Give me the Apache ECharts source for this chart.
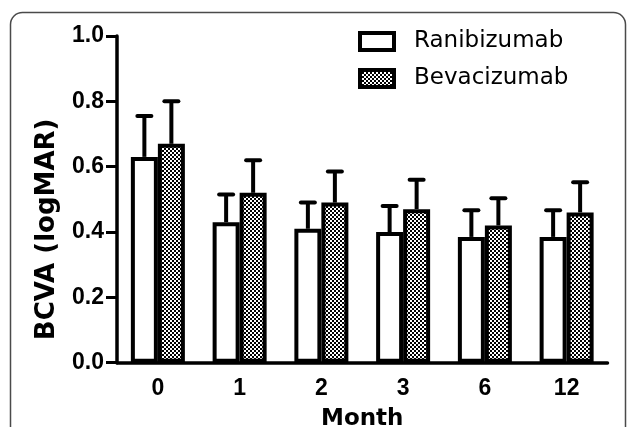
<!DOCTYPE html>
<html>
<head>
<meta charset="utf-8">
<script src="https://cdn.jsdelivr.net/npm/echarts@6/dist/echarts.min.js"></script>
<style>
html,body{margin:0;padding:0;background:#fff;}
#chart{width:629px;height:427px;}
</style>
</head>
<body>
<div id="chart"></div>
<script>
// ---- data ----
const months = ['0', '1', '2', '3', '6', '12'];
const seriesNames = ['Ranibizumab', 'Bevacizumab'];
const raniMean  = [0.63, 0.43, 0.41, 0.40, 0.385, 0.385];
const raniUpper = [0.755, 0.515, 0.49, 0.48, 0.467, 0.467];
const bevaMean  = [0.67, 0.52, 0.49, 0.47, 0.42, 0.46];
const bevaUpper = [0.80, 0.62, 0.585, 0.56, 0.503, 0.552];
const yMin = 0, yMax = 1.0, yStep = 0.2;

// ---- styling ----
const BAR_W = 27;
const BORDER = 4;

function makePattern() {
  const c = document.createElement('canvas');
  c.width = 4; c.height = 4;
  const g = c.getContext('2d');
  g.fillStyle = '#fff'; g.fillRect(0, 0, 4, 4);
  g.fillStyle = '#000';
  g.fillRect(0, 0, 2, 2);
  g.fillRect(2, 2, 2, 2);
  return c;
}
const checker = { image: makePattern(), repeat: 'repeat' };

function errorSeries(mean, upper, offset) {
  return {
    type: 'custom',
    z: 5,
    silent: true,
    data: mean.map((m, i) => [i, m, upper[i]]),
    renderItem: function (params, api) {
      const i = api.value(0);
      const top = api.coord([i, api.value(1)]);
      const hi = api.coord([i, api.value(2)]);
      const x = top[0] + offset;
      const capHalf = 7;
      const st = { stroke: '#000', lineWidth: 4, lineCap: 'round' };
      return {
        type: 'group',
        children: [
          { type: 'line', shape: { x1: x, y1: top[1], x2: x, y2: hi[1] }, style: Object.assign({}, st, { lineCap: 'butt' }) },
          { type: 'line', shape: { x1: x - capHalf, y1: hi[1], x2: x + capHalf, y2: hi[1] }, style: st }
        ]
      };
    }
  };
}

const chart = echarts.init(document.getElementById('chart'), null, { renderer: 'canvas' });
const boldFont = 'Liberation Sans';

chart.setOption({
  animation: false,
  backgroundColor: '#fff',
  graphic: [{
    type: 'rect',
    shape: { x: 10.5, y: 12.5, width: 615, height: 440, r: 12 },
    style: { fill: 'none', stroke: '#4a4a4a', lineWidth: 1.5 },
    z: 0
  }],
  grid: { left: 117, right: 21.5, top: 36, bottom: 64.3, outerBoundsMode: 'none', containLabel: false },
  legend: {
    orient: 'vertical',
    left: 358,
    top: 30,
    padding: 0,
    itemWidth: 34,
    itemHeight: 17,
    itemGap: 14,
    icon: 'rect',
    itemStyle: { borderWidth: BORDER, borderColor: '#000' },
    textStyle: { fontFamily: 'DejaVu Sans', fontSize: 23, color: '#000', padding: [0, 0, 0, 15], lineHeight: 23 },
    data: seriesNames
  },
  xAxis: {
    type: 'category',
    data: months,
    axisLine: { lineStyle: { color: '#000', width: 3.5 } },
    axisTick: { alignWithLabel: true, length: 9, lineStyle: { color: '#000', width: 3.5 } },
    axisLabel: { color: '#000', fontFamily: boldFont, fontWeight: 'bold', fontSize: 23, margin: 14 },
    name: 'Month',
    nameLocation: 'middle',
    nameGap: 45,
    nameTextStyle: { color: '#000', fontFamily: 'DejaVu Sans', fontWeight: 'bold', fontSize: 23 }
  },
  yAxis: {
    type: 'value',
    min: yMin, max: yMax, interval: yStep,
    splitLine: { show: false },
    axisLine: { show: true, lineStyle: { color: '#000', width: 3.5 } },
    axisTick: { show: true, length: 11, lineStyle: { color: '#000', width: 3 } },
    axisLabel: { color: '#000', fontFamily: boldFont, fontWeight: 'bold', fontSize: 23, margin: 13,
      formatter: v => v.toFixed(1) },
    name: 'BCVA (logMAR)',
    nameLocation: 'middle',
    nameGap: 57,
    nameRotate: 90,
    nameTextStyle: { color: '#000', fontFamily: 'DejaVu Sans', fontWeight: 'bold', fontSize: 26, padding: [0, 60, 0, 0] }
  },
  series: [
    {
      name: seriesNames[0], type: 'bar', data: raniMean,
      barWidth: BAR_W, barGap: '0%',
      itemStyle: { color: '#fff', borderColor: '#000', borderWidth: BORDER }
    },
    {
      name: seriesNames[1], type: 'bar', data: bevaMean,
      barWidth: BAR_W, barGap: '0%',
      itemStyle: { color: checker, borderColor: '#000', borderWidth: BORDER }
    },
    errorSeries(raniMean, raniUpper, -BAR_W / 2),
    errorSeries(bevaMean, bevaUpper, BAR_W / 2)
  ]
});
</script>
</body>
</html>
